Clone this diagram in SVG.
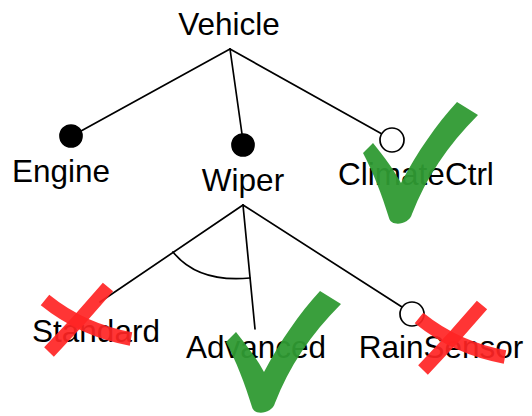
<svg xmlns="http://www.w3.org/2000/svg" width="532" height="416" viewBox="0 0 532 416">
  <defs>
    <style>
      .lbl { font-family: "Liberation Sans", Arial, Helvetica, sans-serif; font-size: 31.5px; fill: #000; text-anchor: middle; }
      .edge { stroke: #000; stroke-width: 1.7; fill: none; stroke-linecap: round; }
      .mand { fill: #000; stroke: #000; stroke-width: 1.7; }
      .opt { fill: #fff; stroke: #000; stroke-width: 1.7; }
      .tick { fill: #2f9a33; fill-opacity: 0.95; }
      .cross { stroke: #ff2424; stroke-opacity: 0.92; stroke-width: 13.5; fill: none; stroke-linecap: butt; }
    </style>
    <!-- brush-stroke check mark -->
    <path id="check" d="M363,153 L373,143 C385,158 394,170 401,183 C418,151 436,125 457,102 L478,115 C447,146 426,178 412,214 C409,225 391,227 389,218 C382,195 373,172 363,153 Z"/>
    <!-- two-stroke cross -->
    <g id="x-mark">
      <path d="M45,300 Q82,330 131,339"/>
      <path d="M108,287 Q80,320 49,352"/>
    </g>
  </defs>

  <rect width="532" height="416" fill="#fff"/>

  <g id="connectors">
    <line class="edge" x1="230" y1="49" x2="81" y2="131"/>
    <line class="edge" x1="230" y1="49" x2="242" y2="134"/>
    <line class="edge" x1="230" y1="49" x2="382" y2="134"/>
    <line class="edge" x1="243" y1="205" x2="100" y2="302"/>
    <line class="edge" x1="243" y1="205" x2="255" y2="329"/>
    <line class="edge" x1="243" y1="205" x2="402" y2="307"/>
    <!-- alternative group arc -->
    <path class="edge" d="M173,252 Q198,283 250,278"/>
  </g>

  <g id="vehicle">
    <text class="lbl" x="229" y="35">Vehicle</text>
  </g>
  <g id="engine">
    <circle class="mand" cx="71" cy="136" r="11"/>
    <text class="lbl" x="61" y="182">Engine</text>
  </g>
  <g id="wiper">
    <circle class="mand" cx="243" cy="145" r="11"/>
    <text class="lbl" x="243" y="191">Wiper</text>
  </g>
  <g id="climatectrl">
    <circle class="opt" cx="392" cy="140" r="12"/>
    <text class="lbl" x="416" y="185">ClimateCtrl</text>
  </g>
  <g id="standard">
    <text class="lbl" x="96" y="342">Standard</text>
  </g>
  <g id="advanced">
    <text class="lbl" x="256" y="358">Advanced</text>
  </g>
  <g id="rainsensor">
    <circle class="opt" cx="412" cy="314" r="12"/>
    <text class="lbl" x="441" y="358">RainSensor</text>
  </g>

  <g id="marks">
    <use href="#check" class="tick"/>
    <use href="#check" class="tick" transform="translate(-137,189)"/>
    <use href="#x-mark" class="cross"/>
    <use href="#x-mark" class="cross" transform="translate(374,18)"/>
  </g>
</svg>
